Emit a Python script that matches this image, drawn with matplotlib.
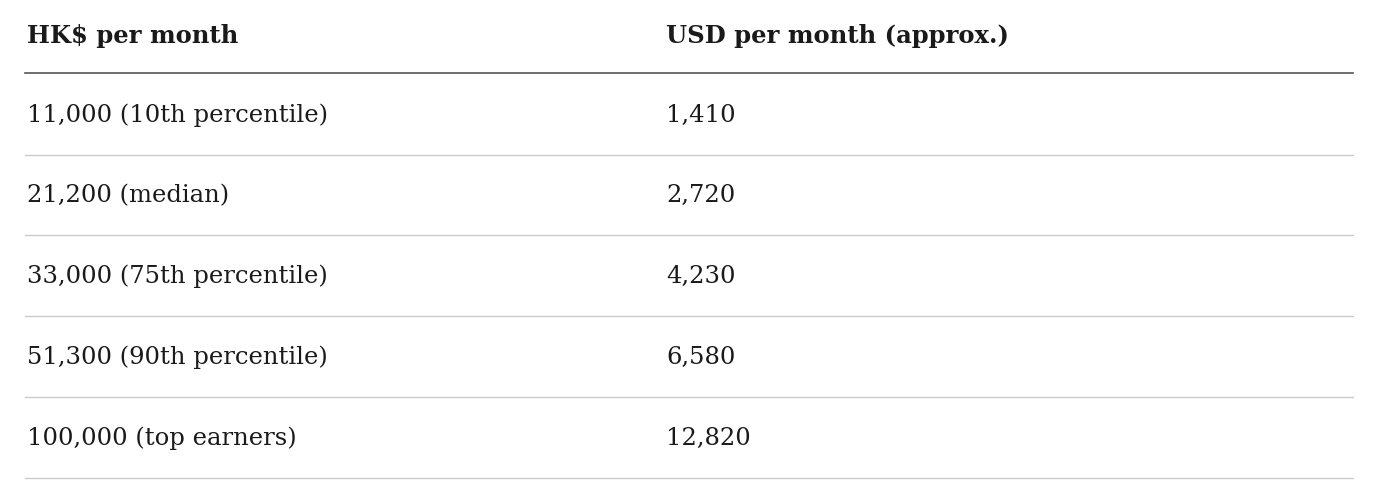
import matplotlib
matplotlib.use("Agg")
import matplotlib.pyplot as plt
from matplotlib.lines import Line2D

headers = ["HK$ per month", "USD per month (approx.)"]
hkd_labels = ["11,000 (10th percentile)", "21,200 (median)", "33,000 (75th percentile)",
              "51,300 (90th percentile)", "100,000 (top earners)"]
usd_values = ["1,410", "2,720", "4,230", "6,580", "12,820"]

W, H = 1380, 496
fig = plt.figure(figsize=(W/100, H/100), dpi=100)
fig.patch.set_facecolor("white")
fam = ["DejaVu Serif"]

def fx(px): return px / W
def fy(py): return 1 - py / H

col_x = [27, 666]
fs = 17.5
for x, h in zip(col_x, headers):
    fig.text(fx(x), fy(36), h, fontsize=fs, fontweight="bold", family=fam,
             va="center", ha="left", color="#1a1a1a")
fig.add_artist(Line2D([fx(25), fx(1353)], [fy(73), fy(73)], color="#555555", lw=1.2))

row_h = 80.8
for i, (a, b) in enumerate(zip(hkd_labels, usd_values)):
    yc = 115 + i * row_h
    fig.text(fx(col_x[0]), fy(yc), a, fontsize=fs, family=fam, va="center", ha="left", color="#1a1a1a")
    fig.text(fx(col_x[1]), fy(yc), b, fontsize=fs, family=fam, va="center", ha="left", color="#1a1a1a")
    yl = 154.5 + i * row_h
    fig.add_artist(Line2D([fx(25), fx(1353)], [fy(yl), fy(yl)], color="#cccccc", lw=1))

fig.savefig("out.png", dpi=100, facecolor="white")
